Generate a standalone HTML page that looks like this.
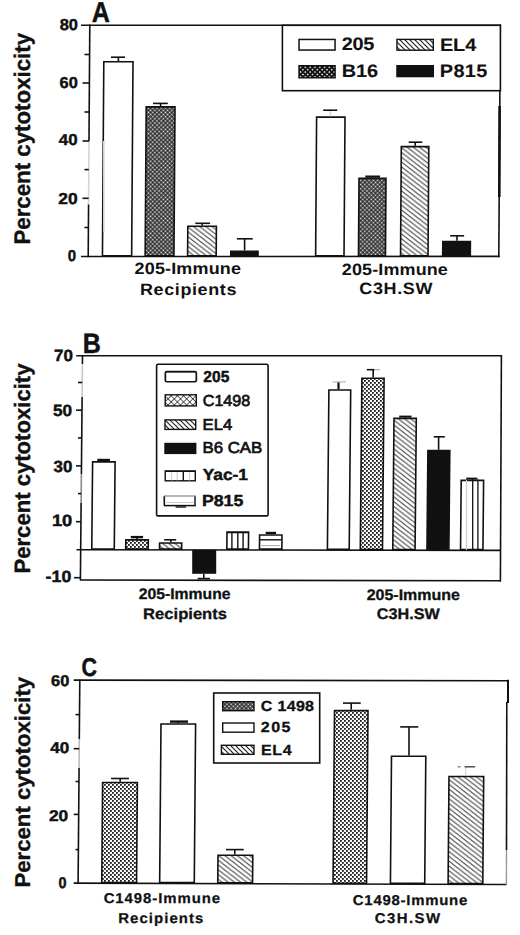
<!DOCTYPE html>
<html><head><meta charset="utf-8"><style>
html,body{margin:0;padding:0;background:#fff;width:520px;height:935px;overflow:hidden}
svg{display:block}
text{font-family:"Liberation Sans", sans-serif;fill:#111;text-rendering:geometricPrecision}
</style></head><body>
<div id="w"><svg width="520" height="935" viewBox="0 0 520 935">

<defs>
 <pattern id="dk" width="3" height="3" patternUnits="userSpaceOnUse" patternTransform="rotate(45)">
  <rect width="3" height="3" fill="#141414"/>
  <rect x="0.6" y="0.6" width="1.8" height="1.8" fill="#f0f0f0"/>
 </pattern>
 <pattern id="xh" width="4" height="4" patternUnits="userSpaceOnUse">
  <rect width="4" height="4" fill="#fafafa"/>
  <rect x="0" y="0" width="1.8" height="1.8" fill="#1a1a1a"/>
  <rect x="2" y="2" width="1.8" height="1.8" fill="#1a1a1a"/>
 </pattern>
 <pattern id="ht" width="6.2" height="4.8" patternUnits="userSpaceOnUse">
  <rect width="6.2" height="4.8" fill="#fff"/>
  <path d="M-6.2,-4.8 L12.4,9.6 M-6.2,0 L6.2,9.6 M0,-4.8 L12.4,4.8" stroke="#444" stroke-width="1.0"/>
 </pattern>
 <pattern id="dk2" width="3.4" height="3.4" patternUnits="userSpaceOnUse" patternTransform="rotate(45)">
  <rect width="3.4" height="3.4" fill="#111"/>
  <rect x="0.9" y="0.9" width="1.5" height="1.5" fill="#f4f4f4"/>
 </pattern>
 <pattern id="xh2" width="4.4" height="4.4" patternUnits="userSpaceOnUse" patternTransform="rotate(45)">
  <rect width="4.4" height="4.4" fill="#fff"/>
  <path d="M0,0 H4.4 M0,0 V4.4" stroke="#111" stroke-width="1.3"/>
 </pattern>
 <pattern id="ht2" width="5" height="5" patternUnits="userSpaceOnUse">
  <rect width="5" height="5" fill="#fff"/>
  <path d="M-5,-5 L10,10 M-5,0 L5,10 M0,-5 L10,5" stroke="#222" stroke-width="1.2"/>
 </pattern>
</defs>

<rect width="520" height="935" fill="#fff"/>
<line x1="81" y1="25.3" x2="500.6" y2="25.3" stroke="#111" stroke-width="1.6"/>
<line x1="89.8" y1="24.5" x2="88.99896862913623" y2="141" stroke="#111" stroke-width="1.6"/>
<line x1="88.99896862913623" y1="141" x2="88.56235496347227" y2="204.5" stroke="#d4d4d4" stroke-width="1.6"/>
<line x1="88.56235496347227" y1="204.5" x2="88.2" y2="257.2" stroke="#111" stroke-width="1.6"/>
<line x1="81" y1="256.5" x2="499.6" y2="256.4" stroke="#111" stroke-width="1.6"/>
<line x1="500.3" y1="24.5" x2="498.8" y2="257.2" stroke="#111" stroke-width="1.6"/>
<line x1="499.6" y1="106" x2="499.3" y2="197" stroke="#111" stroke-width="2.6"/>
<line x1="82.5" y1="83.0" x2="89.39776536312849" y2="83.0" stroke="#111" stroke-width="1.6"/>
<line x1="82.5" y1="141.0" x2="88.99896862913623" y2="141.0" stroke="#111" stroke-width="1.6"/>
<line x1="82.5" y1="198.3" x2="88.6049849591749" y2="198.3" stroke="#111" stroke-width="1.6"/>
<line x1="84.5" y1="54.5" x2="89.59372582724538" y2="54.5" stroke="#111" stroke-width="1.6"/>
<line x1="84.5" y1="112.0" x2="89.19836699613235" y2="112.0" stroke="#111" stroke-width="1.6"/>
<line x1="84.5" y1="169.6" x2="88.80232058444349" y2="169.6" stroke="#111" stroke-width="1.6"/>
<line x1="84.5" y1="227.5" x2="88.40421143102706" y2="227.5" stroke="#111" stroke-width="1.6"/>
<polygon points="103.80,61.80 133.00,61.80 131.65,255.70 102.45,255.70" fill="#fff" stroke="#111" stroke-width="1.6" stroke-linejoin="miter"/>
<line x1="118.4" y1="61" x2="118.4" y2="57.2" stroke="#111" stroke-width="1.6"/>
<line x1="111" y1="57.2" x2="125" y2="57.2" stroke="#111" stroke-width="1.6"/>
<line x1="103.8" y1="141" x2="103.8" y2="232" stroke="#d0d0d0" stroke-width="1.6"/>
<polygon points="146.20,106.90 175.00,106.90 173.96,255.70 145.16,255.70" fill="url(#dk)" stroke="#111" stroke-width="1.6" stroke-linejoin="miter"/>
<line x1="160.6" y1="106.1" x2="160.6" y2="103.4" stroke="#111" stroke-width="1.6"/>
<line x1="153" y1="103.4" x2="167.8" y2="103.4" stroke="#111" stroke-width="1.6"/>
<polygon points="187.80,226.20 216.40,226.20 216.19,255.70 187.59,255.70" fill="url(#ht)" stroke="#111" stroke-width="1.6" stroke-linejoin="miter"/>
<line x1="202.2" y1="225.4" x2="202.2" y2="223.3" stroke="#111" stroke-width="1.6"/>
<line x1="195.3" y1="223.3" x2="210.1" y2="223.3" stroke="#111" stroke-width="1.6"/>
<polygon points="230.80,251.30 258.00,251.30 257.96,255.70 230.76,255.70" fill="#111" stroke="#111" stroke-width="1.6" stroke-linejoin="miter"/>
<line x1="244.6" y1="250.5" x2="244.6" y2="238.8" stroke="#111" stroke-width="1.6"/>
<line x1="236.9" y1="238.8" x2="252.7" y2="238.8" stroke="#111" stroke-width="1.6"/>
<polygon points="316.60,117.10 345.00,117.10 344.03,255.70 315.63,255.70" fill="#fff" stroke="#111" stroke-width="1.6" stroke-linejoin="miter"/>
<line x1="330.4" y1="116.3" x2="330.4" y2="110.2" stroke="#d8d8d8" stroke-width="1.6"/>
<line x1="323.2" y1="110.2" x2="337.3" y2="110.2" stroke="#111" stroke-width="1.6"/>
<polygon points="359.00,178.40 386.00,178.40 385.46,255.70 358.46,255.70" fill="url(#dk)" stroke="#111" stroke-width="1.6" stroke-linejoin="miter"/>
<line x1="372.5" y1="177.6" x2="372.5" y2="176.6" stroke="#111" stroke-width="1.6"/>
<line x1="365.3" y1="176.6" x2="380" y2="176.6" stroke="#111" stroke-width="2.2"/>
<polygon points="401.30,146.60 428.80,146.60 428.04,255.70 400.54,255.70" fill="url(#ht)" stroke="#111" stroke-width="1.6" stroke-linejoin="miter"/>
<line x1="415.2" y1="145.8" x2="415.2" y2="142.2" stroke="#111" stroke-width="1.6"/>
<line x1="408.7" y1="142.2" x2="422.3" y2="142.2" stroke="#111" stroke-width="1.6"/>
<polygon points="442.80,241.50 470.40,241.50 470.29,255.70 442.69,255.70" fill="#111" stroke="#111" stroke-width="1.6" stroke-linejoin="miter"/>
<line x1="457" y1="240.7" x2="457" y2="235.8" stroke="#111" stroke-width="1.6"/>
<line x1="450.2" y1="235.8" x2="464.1" y2="235.8" stroke="#111" stroke-width="1.6"/>
<rect x="282.40" y="25.30" width="218.00" height="65.40" fill="#fff" stroke="#111" stroke-width="1.6" rx="0"/>
<rect x="299.05" y="39.45" width="36.00" height="10.60" fill="#fff" stroke="#111" stroke-width="1.5" rx="0"/>
<rect x="299.00" y="65.70" width="36.10" height="12.10" fill="url(#dk2)" stroke="#111" stroke-width="1.4" rx="0"/>
<rect x="396.95" y="39.40" width="36.35" height="10.80" fill="url(#ht2)" stroke="#111" stroke-width="1.4" rx="0"/>
<rect x="396.95" y="65.70" width="36.35" height="10.90" fill="#111" stroke="#111" stroke-width="1.4" rx="0"/>
<line x1="76.2" y1="355.8" x2="501.9" y2="355.8" stroke="#111" stroke-width="1.6"/>
<line x1="82.5" y1="355" x2="82.41622340425532" y2="364" stroke="#111" stroke-width="1.6"/>
<line x1="82.41622340425532" y1="364" x2="82.10904255319149" y2="397" stroke="#c8c8c8" stroke-width="1.6"/>
<line x1="82.10904255319149" y1="397" x2="81.39228723404256" y2="474" stroke="#111" stroke-width="1.6"/>
<line x1="81.39228723404256" y1="474" x2="81.12234042553192" y2="503" stroke="#888" stroke-width="1.6"/>
<line x1="81.12234042553192" y1="503" x2="80.4" y2="580.6" stroke="#111" stroke-width="1.6"/>
<line x1="76.5" y1="549.8" x2="501" y2="550.4" stroke="#111" stroke-width="1.6"/>
<line x1="80.4" y1="580.0" x2="501" y2="580.8" stroke="#111" stroke-width="1.6"/>
<line x1="501.4" y1="355" x2="500.4" y2="581.4" stroke="#111" stroke-width="1.6"/>
<line x1="76" y1="410.2" x2="81.98617021276596" y2="410.2" stroke="#111" stroke-width="1.6"/>
<line x1="76" y1="465.9" x2="81.46768617021277" y2="465.9" stroke="#111" stroke-width="1.6"/>
<line x1="76" y1="521.7" x2="80.94827127659575" y2="521.7" stroke="#111" stroke-width="1.6"/>
<line x1="74" y1="577.7" x2="80.42699468085107" y2="577.7" stroke="#111" stroke-width="1.6"/>
<line x1="78" y1="382.5" x2="82.2440159574468" y2="382.5" stroke="#111" stroke-width="1.6"/>
<line x1="78" y1="437.9" x2="81.7283244680851" y2="437.9" stroke="#111" stroke-width="1.6"/>
<line x1="78" y1="493.6" x2="81.20984042553191" y2="493.6" stroke="#111" stroke-width="1.6"/>
<polygon points="92.60,461.90 115.10,461.90 114.27,549.10 91.77,549.10" fill="#fff" stroke="#111" stroke-width="1.6" stroke-linejoin="miter"/>
<line x1="103.85" y1="461.1" x2="103.85" y2="460.0" stroke="#111" stroke-width="1.6"/>
<line x1="97.3" y1="460.0" x2="110" y2="460.0" stroke="#111" stroke-width="2.4"/>
<polygon points="125.80,539.90 148.30,539.90 148.20,549.10 125.70,549.10" fill="url(#xh)" stroke="#111" stroke-width="1.6" stroke-linejoin="miter"/>
<line x1="137.05" y1="539.1" x2="137.05" y2="537.1" stroke="#111" stroke-width="1.6"/>
<line x1="130.8" y1="537.1" x2="143.1" y2="537.1" stroke="#111" stroke-width="2.4"/>
<polygon points="159.60,543.00 181.70,543.00 181.63,549.10 159.53,549.10" fill="url(#ht)" stroke="#111" stroke-width="1.6" stroke-linejoin="miter"/>
<line x1="170.8" y1="542.2" x2="170.8" y2="539.8" stroke="#111" stroke-width="1.6"/>
<line x1="164.2" y1="539.8" x2="176.2" y2="539.8" stroke="#111" stroke-width="1.6"/>
<rect x="193.00" y="550.70" width="22.40" height="22.30" fill="#111" stroke="#111" stroke-width="1.6" rx="0"/>
<line x1="203.8" y1="573.8" x2="203.8" y2="578.6" stroke="#111" stroke-width="1.6"/>
<line x1="197.7" y1="578.6" x2="210" y2="578.6" stroke="#111" stroke-width="1.6"/>
<polygon points="227.00,532.00 248.60,532.00 248.43,549.10 226.83,549.10" fill="#fff" stroke="#111" stroke-width="1.6" stroke-linejoin="miter"/>
<line x1="227" y1="532.6" x2="248.6" y2="532.6" stroke="#111" stroke-width="1.4"/>
<line x1="231.9" y1="532" x2="231.9" y2="549.9" stroke="#111" stroke-width="1.4"/>
<line x1="237.8" y1="532" x2="237.8" y2="549.9" stroke="#111" stroke-width="1.4"/>
<line x1="243.1" y1="532" x2="243.1" y2="549.9" stroke="#111" stroke-width="1.4"/>
<polygon points="259.60,535.00 282.00,535.00 281.85,549.10 259.45,549.10" fill="#fff" stroke="#111" stroke-width="1.6" stroke-linejoin="miter"/>
<line x1="270.8" y1="534.2" x2="270.8" y2="532.9" stroke="#111" stroke-width="1.6"/>
<line x1="265.7" y1="532.9" x2="276.1" y2="532.9" stroke="#111" stroke-width="2.2"/>
<line x1="260" y1="539.8" x2="281.5" y2="539.8" stroke="#111" stroke-width="1.4"/>
<line x1="261" y1="545.6" x2="280" y2="545.6" stroke="#aaa" stroke-width="1.0"/>
<polygon points="328.90,390.00 350.70,390.00 349.20,549.40 327.40,549.40" fill="#fff" stroke="#111" stroke-width="1.6" stroke-linejoin="miter"/>
<line x1="338.5" y1="389.2" x2="338.5" y2="381.9" stroke="#111" stroke-width="2.2"/>
<line x1="332.7" y1="381.9" x2="345.8" y2="381.9" stroke="#bbb" stroke-width="1.3"/>
<polygon points="361.90,378.20 384.10,378.20 382.49,549.50 360.29,549.50" fill="url(#xh)" stroke="#111" stroke-width="1.6" stroke-linejoin="miter"/>
<line x1="373.2" y1="377.4" x2="373.2" y2="369.7" stroke="#111" stroke-width="1.6"/>
<line x1="366.8" y1="369.7" x2="374.5" y2="369.7" stroke="#111" stroke-width="1.6"/>
<line x1="374.5" y1="369.7" x2="380" y2="369.7" stroke="#aaa" stroke-width="1.2"/>
<polygon points="394.00,418.40 416.30,418.40 415.07,549.50 392.77,549.50" fill="url(#ht)" stroke="#111" stroke-width="1.6" stroke-linejoin="miter"/>
<line x1="405.15" y1="417.6" x2="405.15" y2="416.6" stroke="#111" stroke-width="1.6"/>
<line x1="399.2" y1="416.6" x2="411.5" y2="416.6" stroke="#111" stroke-width="2.0"/>
<polygon points="427.90,450.60 449.80,450.60 448.87,549.50 426.97,549.50" fill="#111" stroke="#111" stroke-width="1.6" stroke-linejoin="miter"/>
<line x1="438.6" y1="449.8" x2="438.6" y2="436.8" stroke="#111" stroke-width="1.6"/>
<line x1="433.7" y1="436.8" x2="444.8" y2="436.8" stroke="#111" stroke-width="1.6"/>
<polygon points="461.20,480.40 483.60,480.40 482.94,549.60 460.54,549.60" fill="#fff" stroke="#111" stroke-width="1.6" stroke-linejoin="miter"/>
<line x1="472.4" y1="479.6" x2="472.4" y2="478.6" stroke="#111" stroke-width="1.6"/>
<line x1="466.2" y1="478.6" x2="477.3" y2="478.6" stroke="#111" stroke-width="2.0"/>
<line x1="466.5" y1="480" x2="466.5" y2="550" stroke="#ccc" stroke-width="1.2"/>
<line x1="472.7" y1="479.6" x2="472.7" y2="550.3" stroke="#111" stroke-width="1.3"/>
<line x1="477.9" y1="479.6" x2="477.9" y2="550.3" stroke="#111" stroke-width="1.3"/>
<rect x="156.60" y="364.30" width="111.50" height="151.60" fill="#fff" stroke="#111" stroke-width="1.6" rx="1.5"/>
<rect x="165.35" y="371.65" width="31.00" height="10.10" fill="#fff" stroke="#111" stroke-width="1.7" rx="1.5"/>
<line x1="166" y1="371.8" x2="196" y2="371.8" stroke="#111" stroke-width="1.0"/>
<rect x="165.20" y="394.80" width="31.10" height="11.10" fill="url(#xh2)" stroke="#111" stroke-width="1.4" rx="0"/>
<rect x="165.00" y="419.90" width="30.70" height="9.50" fill="url(#ht2)" stroke="#111" stroke-width="1.4" rx="0"/>
<rect x="165.00" y="443.50" width="30.70" height="9.90" fill="#111" stroke="#111" stroke-width="1.4" rx="0"/>
<rect x="165.20" y="471.00" width="30.10" height="9.80" fill="#fff" stroke="#111" stroke-width="1.4" rx="0"/>
<line x1="165.5" y1="471.3" x2="195" y2="471.3" stroke="#111" stroke-width="1.4"/>
<line x1="183.3" y1="471" x2="183.3" y2="481" stroke="#111" stroke-width="1.4"/>
<line x1="171.7" y1="472" x2="171.7" y2="480.5" stroke="#ccc" stroke-width="1.0"/>
<line x1="177.2" y1="472" x2="177.2" y2="480.5" stroke="#ccc" stroke-width="1.0"/>
<line x1="189.5" y1="472" x2="189.5" y2="480.5" stroke="#ccc" stroke-width="1.0"/>
<line x1="164.3" y1="496" x2="164.3" y2="505.5" stroke="#111" stroke-width="1.6"/>
<line x1="195" y1="496" x2="195" y2="505.5" stroke="#111" stroke-width="1.4"/>
<line x1="164" y1="505.6" x2="195.8" y2="505.6" stroke="#111" stroke-width="1.5"/>
<line x1="164" y1="496" x2="195.8" y2="496" stroke="#888" stroke-width="1.2"/>
<line x1="175.6" y1="507" x2="186.1" y2="507" stroke="#111" stroke-width="1.4"/>
<line x1="166" y1="502.5" x2="194" y2="502.5" stroke="#ccc" stroke-width="1.0"/>
<line x1="73.7" y1="680.1" x2="508.9" y2="680.8" stroke="#111" stroke-width="1.6"/>
<line x1="79.8" y1="679.5" x2="79.30416666666666" y2="739" stroke="#111" stroke-width="1.6"/>
<line x1="79.30416666666666" y1="739" x2="79.0625" y2="768" stroke="#bbb" stroke-width="1.6"/>
<line x1="79.0625" y1="768" x2="78.1" y2="883.8" stroke="#111" stroke-width="1.6"/>
<line x1="73.7" y1="883.1" x2="506.6" y2="884.5" stroke="#111" stroke-width="1.6"/>
<line x1="508.0" y1="679.8" x2="508.0" y2="703" stroke="#111" stroke-width="2.0"/>
<line x1="506.8" y1="702" x2="506.5" y2="850" stroke="#111" stroke-width="1.6"/>
<line x1="506.5" y1="850" x2="506.4" y2="884.5" stroke="#999" stroke-width="1.4"/>
<line x1="73.7" y1="748.7" x2="79.22333333333333" y2="748.7" stroke="#111" stroke-width="1.6"/>
<line x1="73.7" y1="814.4" x2="78.67583333333333" y2="814.4" stroke="#111" stroke-width="1.6"/>
<line x1="75.5" y1="714.6" x2="79.5075" y2="714.6" stroke="#111" stroke-width="1.6"/>
<line x1="75.5" y1="781.5" x2="78.95" y2="781.5" stroke="#111" stroke-width="1.6"/>
<line x1="75.5" y1="849.6" x2="78.3825" y2="849.6" stroke="#111" stroke-width="1.6"/>
<polygon points="102.60,782.50 137.40,782.50 136.56,882.50 101.76,882.50" fill="url(#xh)" stroke="#111" stroke-width="1.6" stroke-linejoin="miter"/>
<line x1="120.2" y1="781.7" x2="120.2" y2="778.5" stroke="#111" stroke-width="1.6"/>
<line x1="111.1" y1="778.5" x2="128.9" y2="778.5" stroke="#111" stroke-width="1.6"/>
<polygon points="161.00,724.00 195.60,724.00 194.27,882.60 159.67,882.60" fill="#fff" stroke="#111" stroke-width="1.6" stroke-linejoin="miter"/>
<line x1="178.3" y1="723.2" x2="178.3" y2="721.6" stroke="#111" stroke-width="1.6"/>
<line x1="170" y1="721.6" x2="188" y2="721.6" stroke="#111" stroke-width="2.4"/>
<polygon points="218.00,855.30 252.80,855.30 252.56,882.80 217.76,882.80" fill="url(#ht)" stroke="#111" stroke-width="1.6" stroke-linejoin="miter"/>
<line x1="234.8" y1="854.5" x2="234.8" y2="849.6" stroke="#111" stroke-width="1.6"/>
<line x1="226" y1="849.6" x2="243.7" y2="849.6" stroke="#111" stroke-width="1.6"/>
<polygon points="334.50,710.60 368.00,710.60 366.55,883.20 333.05,883.20" fill="url(#xh)" stroke="#111" stroke-width="1.6" stroke-linejoin="miter"/>
<line x1="351.2" y1="709.8" x2="351.2" y2="703.1" stroke="#111" stroke-width="1.6"/>
<line x1="343" y1="703.1" x2="360.7" y2="703.1" stroke="#111" stroke-width="1.6"/>
<polygon points="391.50,756.30 425.80,756.30 424.73,883.40 390.43,883.40" fill="#fff" stroke="#111" stroke-width="1.6" stroke-linejoin="miter"/>
<line x1="409" y1="755.5" x2="409" y2="726.9" stroke="#111" stroke-width="1.6"/>
<line x1="400.2" y1="726.9" x2="418.3" y2="726.9" stroke="#111" stroke-width="1.6"/>
<polygon points="449.00,776.50 483.70,776.50 482.80,883.50 448.10,883.50" fill="url(#ht)" stroke="#111" stroke-width="1.6" stroke-linejoin="miter"/>
<line x1="465.7" y1="775" x2="465.7" y2="767" stroke="#ccc" stroke-width="1.0"/>
<line x1="464.6" y1="766.8" x2="475.1" y2="766.8" stroke="#444" stroke-width="1.4"/>
<line x1="457.8" y1="766.8" x2="460.5" y2="766.8" stroke="#777" stroke-width="1.4"/>
<rect x="213.70" y="693.00" width="106.00" height="70.00" fill="#fff" stroke="#111" stroke-width="1.6" rx="0"/>
<rect x="222.70" y="701.70" width="31.30" height="9.00" fill="url(#dk)" stroke="#111" stroke-width="1.4" rx="0"/>
<rect x="222.70" y="723.00" width="31.30" height="9.20" fill="#fff" stroke="#111" stroke-width="1.4" rx="0"/>
<rect x="221.40" y="745.30" width="32.60" height="9.00" fill="url(#ht2)" stroke="#111" stroke-width="1.4" rx="0"/>
<text x="91.65" y="22.42" font-size="28.79" font-weight="bold" textLength="18.15" lengthAdjust="spacingAndGlyphs" stroke="#111" stroke-width="0.45" id="a_A">A</text>
<text x="59.70" y="30.19" font-size="15.82" font-weight="bold" textLength="18.29" lengthAdjust="spacingAndGlyphs" stroke="#111" stroke-width="0.45" id="a_80">80</text>
<text x="59.62" y="88.43" font-size="15.82" font-weight="bold" textLength="18.22" lengthAdjust="spacingAndGlyphs" stroke="#111" stroke-width="0.45" id="a_60">60</text>
<text x="58.76" y="145.24" font-size="15.82" font-weight="bold" textLength="18.81" lengthAdjust="spacingAndGlyphs" stroke="#111" stroke-width="0.45" id="a_40">40</text>
<text x="58.33" y="203.74" font-size="15.82" font-weight="bold" textLength="19.36" lengthAdjust="spacingAndGlyphs" stroke="#111" stroke-width="0.45" id="a_20">20</text>
<text x="67.76" y="260.95" font-size="15.82" font-weight="bold" textLength="8.34" lengthAdjust="spacingAndGlyphs" stroke="#111" stroke-width="0.45" id="a_0">0</text>
<text transform="translate(30.13,244.61) rotate(-90)" font-size="22.60" font-weight="bold" textLength="211.72" lengthAdjust="spacingAndGlyphs" stroke="#111" stroke-width="0.35" id="a_yl">Percent cytotoxicity</text>
<text transform="translate(341.85,49.83) scale(1.1,1)" font-size="18.09" font-weight="bold" textLength="29.53" lengthAdjust="spacing" stroke="#111" stroke-width="0.1" id="a_l205">205</text>
<text transform="translate(341.85,77.00) scale(1.1,1)" font-size="18.09" font-weight="bold" textLength="32.89" lengthAdjust="spacing" stroke="#111" stroke-width="0.1" id="a_lB16">B16</text>
<text transform="translate(439.91,50.78) scale(1.1,1)" font-size="18.09" font-weight="bold" textLength="33.03" lengthAdjust="spacing" stroke="#111" stroke-width="0.1" id="a_lEL4">EL4</text>
<text transform="translate(439.84,77.02) scale(1.1,1)" font-size="18.09" font-weight="bold" textLength="43.07" lengthAdjust="spacing" stroke="#111" stroke-width="0.1" id="a_lP815">P815</text>
<text transform="translate(134.60,274.00) scale(1.1,1)" font-size="16.35" font-weight="bold" textLength="96.63" lengthAdjust="spacing" id="a_g1a">205-Immune</text>
<text transform="translate(139.90,294.94) scale(1.1,1)" font-size="16.35" font-weight="bold" textLength="87.77" lengthAdjust="spacing" id="a_g1b">Recipients</text>
<text transform="translate(341.86,274.61) scale(1.1,1)" font-size="16.35" font-weight="bold" textLength="96.38" lengthAdjust="spacing" id="a_g2a">205-Immune</text>
<text transform="translate(359.27,294.01) scale(1.1,1)" font-size="16.35" font-weight="bold" textLength="66.57" lengthAdjust="spacing" id="a_g2b">C3H.SW</text>
<text x="82.65" y="353.21" font-size="27.92" font-weight="bold" textLength="18.10" lengthAdjust="spacingAndGlyphs" stroke="#111" stroke-width="0.45" id="b_B">B</text>
<text x="54.14" y="360.69" font-size="16.24" font-weight="bold" textLength="18.88" lengthAdjust="spacingAndGlyphs" stroke="#111" stroke-width="0.45" id="b_70">70</text>
<text x="52.95" y="416.12" font-size="16.24" font-weight="bold" textLength="19.15" lengthAdjust="spacingAndGlyphs" stroke="#111" stroke-width="0.45" id="b_50">50</text>
<text x="53.51" y="471.96" font-size="16.24" font-weight="bold" textLength="18.80" lengthAdjust="spacingAndGlyphs" stroke="#111" stroke-width="0.45" id="b_30">30</text>
<text x="51.90" y="526.44" font-size="16.24" font-weight="bold" textLength="20.41" lengthAdjust="spacingAndGlyphs" stroke="#111" stroke-width="0.45" id="b_10">10</text>
<text x="45.61" y="582.04" font-size="16.24" font-weight="bold" textLength="25.67" lengthAdjust="spacingAndGlyphs" stroke="#111" stroke-width="0.45" id="b_m10">-10</text>
<text transform="translate(30.11,573.55) rotate(-90)" font-size="22.33" font-weight="bold" textLength="210.06" lengthAdjust="spacingAndGlyphs" stroke="#111" stroke-width="0.35" id="b_yl">Percent cytotoxicity</text>
<text x="203.35" y="382.48" font-size="15.89" font-weight="bold" textLength="25.96" lengthAdjust="spacingAndGlyphs" stroke="#111" stroke-width="0.45" id="b_l1">205</text>
<text x="202.74" y="406.10" font-size="15.89" font-weight="normal" textLength="47.53" lengthAdjust="spacingAndGlyphs" stroke="#111" stroke-width="0.7" id="b_l2">C1498</text>
<text x="202.58" y="430.39" font-size="15.89" font-weight="normal" textLength="29.58" lengthAdjust="spacingAndGlyphs" stroke="#111" stroke-width="0.7" id="b_l3">EL4</text>
<text x="202.49" y="452.75" font-size="15.89" font-weight="normal" textLength="59.79" lengthAdjust="spacingAndGlyphs" stroke="#111" stroke-width="0.7" id="b_l4">B6 CAB</text>
<text x="202.68" y="479.90" font-size="15.89" font-weight="bold" textLength="45.35" lengthAdjust="spacingAndGlyphs" stroke="#111" stroke-width="0.45" id="b_l5">Yac-1</text>
<text x="201.91" y="505.85" font-size="15.89" font-weight="bold" textLength="41.36" lengthAdjust="spacingAndGlyphs" stroke="#111" stroke-width="0.45" id="b_l6">P815</text>
<text x="138.69" y="598.74" font-size="15.30" font-weight="bold" textLength="91.87" lengthAdjust="spacingAndGlyphs" stroke="#111" stroke-width="0.3" id="b_g1a">205-Immune</text>
<text x="143.11" y="618.87" font-size="15.30" font-weight="bold" textLength="83.88" lengthAdjust="spacingAndGlyphs" stroke="#111" stroke-width="0.3" id="b_g1b">Recipients</text>
<text x="366.69" y="599.81" font-size="15.30" font-weight="bold" textLength="93.26" lengthAdjust="spacingAndGlyphs" stroke="#111" stroke-width="0.3" id="b_g2a">205-Immune</text>
<text x="376.85" y="619.20" font-size="15.30" font-weight="bold" textLength="63.05" lengthAdjust="spacingAndGlyphs" stroke="#111" stroke-width="0.3" id="b_g2b">C3H.SW</text>
<text x="81.54" y="676.48" font-size="25.80" font-weight="bold" textLength="15.48" lengthAdjust="spacingAndGlyphs" stroke="#111" stroke-width="0.45" id="c_C">C</text>
<text x="51.02" y="685.85" font-size="15.49" font-weight="bold" textLength="18.25" lengthAdjust="spacingAndGlyphs" stroke="#111" stroke-width="0.45" id="c_60">60</text>
<text x="50.37" y="752.63" font-size="15.49" font-weight="bold" textLength="18.97" lengthAdjust="spacingAndGlyphs" stroke="#111" stroke-width="0.45" id="c_40">40</text>
<text x="48.92" y="820.93" font-size="15.49" font-weight="bold" textLength="19.30" lengthAdjust="spacingAndGlyphs" stroke="#111" stroke-width="0.45" id="c_20">20</text>
<text x="58.61" y="887.95" font-size="15.49" font-weight="bold" textLength="8.00" lengthAdjust="spacingAndGlyphs" stroke="#111" stroke-width="0.45" id="c_0">0</text>
<text transform="translate(30.46,887.58) rotate(-90)" font-size="21.53" font-weight="bold" textLength="210.78" lengthAdjust="spacingAndGlyphs" stroke="#111" stroke-width="0.35" id="c_yl">Percent cytotoxicity</text>
<text transform="translate(260.84,710.85) scale(1.1,1)" font-size="14.60" font-weight="bold" textLength="48.37" lengthAdjust="spacing" stroke="#111" stroke-width="0.3" id="c_l1">C 1498</text>
<text transform="translate(260.83,732.16) scale(1.1,1)" font-size="14.60" font-weight="bold" textLength="26.86" lengthAdjust="spacing" stroke="#111" stroke-width="0.3" id="c_l2">205</text>
<text transform="translate(261.02,754.64) scale(1.1,1)" font-size="14.60" font-weight="bold" textLength="27.90" lengthAdjust="spacing" stroke="#111" stroke-width="0.3" id="c_l3">EL4</text>
<text transform="translate(103.63,902.96) scale(1.05,1)" font-size="14.22" font-weight="bold" textLength="110.95" lengthAdjust="spacing" stroke="#111" stroke-width="0.25" id="c_g1a">C1498-Immune</text>
<text transform="translate(118.19,922.59) scale(1.05,1)" font-size="14.22" font-weight="bold" textLength="81.17" lengthAdjust="spacing" stroke="#111" stroke-width="0.25" id="c_g1b">Recipients</text>
<text transform="translate(352.85,904.92) scale(1.05,1)" font-size="14.22" font-weight="bold" textLength="108.98" lengthAdjust="spacing" stroke="#111" stroke-width="0.25" id="c_g2a">C1498-Immune</text>
<text transform="translate(374.70,923.07) scale(1.05,1)" font-size="14.22" font-weight="bold" textLength="62.20" lengthAdjust="spacing" stroke="#111" stroke-width="0.25" id="c_g2b">C3H.SW</text>
</svg></div>
</body></html>
